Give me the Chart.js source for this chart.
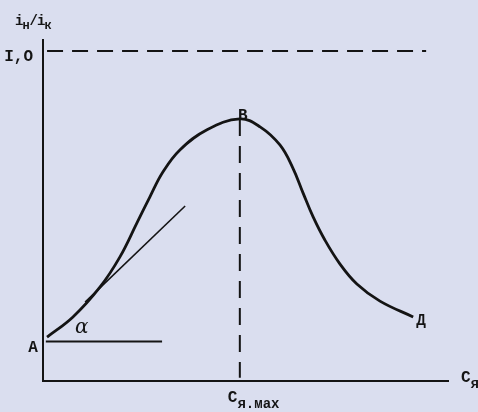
<!DOCTYPE html>
<html>
<head>
<meta charset="utf-8">
<script src="https://cdn.jsdelivr.net/npm/chart.js@4/dist/chart.umd.min.js"></script>
<style>
  html, body { margin: 0; padding: 0; background: #dadeef; }
  #wrap { width: 478px; height: 412px; }
</style>
</head>
<body>
<div id="wrap"><canvas id="c" width="478" height="412"></canvas></div>
<script>
// Concentration axis (arbitrary units) and the i_н/i_к ratio of the curve A–B–Д
const cValues     = [0.10, 0.74, 1.41, 1.90, 2.32, 2.64, 2.96, 3.38, 4.05, 4.86, 5.36, 5.85, 6.17, 6.42, 6.67, 6.96, 7.33, 7.75, 8.32, 9.14];
const ratioValues = [0.133, 0.194, 0.285, 0.376, 0.479, 0.558, 0.633, 0.700, 0.761, 0.794, 0.770, 0.715, 0.645, 0.570, 0.497, 0.427, 0.355, 0.294, 0.242, 0.194];

// Tangent drawn at the initial part of the curve
const tangentC     = [1.04, 3.51];
const tangentRatio = [0.239, 0.530];

// Horizontal reference from point A (angle α is measured from it)
const baseC     = [0.07, 2.94];
const baseRatio = [0.12, 0.12];

// Limit level i_н/i_к = 1,0 and the optimum concentration
const limitC     = [0.10, 9.46];
const limitRatio = 1.0;
const cMax       = 4.86;
const peakRatio  = 0.794;

// typewritten "I,O" stands for 1,0
const yTicks = [limitRatio];
const yTickLabels = ['I,O'];

const ink = '#141414';
const mono = '"Liberation Mono", "DejaVu Sans Mono", monospace';

const pts = (xs, ys) => xs.map((x, i) => ({ x, y: Array.isArray(ys) ? ys[i] : ys }));

// Text with a lowered subscript
function subText(ctx, x, y, parts) {
  let cx = x;
  for (const p of parts) {
    ctx.font = p.font;
    ctx.fillText(p.t, cx, y + (p.dy || 0));
    cx += ctx.measureText(p.t).width + (p.gap || 0);
  }
}

const labelsPlugin = {
  id: 'figureLabels',
  afterDraw(chart) {
    const ctx = chart.ctx;
    const xs = chart.scales.x, ys = chart.scales.y;
    ctx.save();
    ctx.fillStyle = ink;
    ctx.textBaseline = 'alphabetic';
    ctx.textAlign = 'left';

    const big = 'bold 16px ' + mono;
    const sub = 'bold 14px ' + mono;
    const small = 'bold 14px ' + mono;
    const tiny = 'bold 12px ' + mono;

    // y-axis title
    subText(ctx, 15, 25, [
      { t: 'i', font: small, gap: -1 },
      { t: 'н', font: tiny, dy: 4 },
      { t: '/', font: small, gap: -1 },
      { t: 'i', font: small, gap: -1 },
      { t: 'к', font: tiny, dy: 4 }
    ]);

    // point A on the y axis
    ctx.font = big;
    ctx.textAlign = 'center';
    ctx.fillText('A', 33, ys.getPixelForValue(baseRatio[0]) + 11);

    // point B at the maximum
    ctx.fillText('B', xs.getPixelForValue(cMax) + 3, ys.getPixelForValue(peakRatio) + 1);

    // point Д at the curve end
    const n = cValues.length - 1;
    ctx.textAlign = 'left';
    ctx.fillText('Д', xs.getPixelForValue(cValues[n]) + 3, ys.getPixelForValue(ratioValues[n]) + 8);

    // angle α
    ctx.font = 'italic 20px "DejaVu Serif", serif';
    ctx.fillText('α', 75, ys.getPixelForValue(baseRatio[0]) - 8);

    // x-axis title
    const axisY = ys.getPixelForValue(0);
    subText(ctx, 461, axisY + 1, [
      { t: 'C', font: big },
      { t: 'я', font: sub, dy: 6 }
    ]);

    // optimum concentration under the axis
    subText(ctx, xs.getPixelForValue(cMax) - 12, axisY + 21, [
      { t: 'C', font: big },
      { t: 'я.мах', font: sub, dy: 6 }
    ]);
    ctx.restore();
  }
};

new Chart(document.getElementById('c'), {
  type: 'scatter',
  data: {
    datasets: [
      {
        data: pts(cValues, ratioValues),
        showLine: true, borderColor: ink, borderWidth: 2.8,
        tension: 0.4, pointRadius: 0
      },
      {
        data: pts(tangentC, tangentRatio),
        showLine: true, borderColor: ink, borderWidth: 1.6, pointRadius: 0
      },
      {
        data: pts(baseC, baseRatio),
        showLine: true, borderColor: ink, borderWidth: 2, pointRadius: 0
      },
      {
        data: pts(limitC, limitRatio),
        showLine: true, borderColor: ink, borderWidth: 2, borderDash: [16, 9], pointRadius: 0
      },
      {
        data: [{ x: cMax, y: peakRatio }, { x: cMax, y: 0.01 }],
        showLine: true, borderColor: ink, borderWidth: 2, borderDash: [17, 10], pointRadius: 0
      }
    ]
  },
  options: {
    responsive: false,
    animation: false,
    layout: { padding: { left: 0, top: 40, right: 30, bottom: 0 } },
    plugins: { legend: { display: false }, tooltip: { enabled: false } },
    scales: {
      x: {
        type: 'linear', min: 0, max: 10,
        grid: { display: false, drawTicks: false },
        border: { display: true, color: ink, width: 2 },
        ticks: { display: false },
        afterFit: s => { s.height = 31; }
      },
      y: {
        type: 'linear', min: 0, max: 1.033,
        grid: { display: false, drawTicks: false },
        border: { display: true, color: ink, width: 2 },
        afterBuildTicks: s => { s.ticks = yTicks.map(v => ({ value: v })); },
        ticks: {
          color: ink, padding: 10, labelOffset: 6,
          font: { family: mono, size: 16, weight: 'bold' },
          callback: (v) => { const i = yTicks.indexOf(v); return i >= 0 ? yTickLabels[i] : ''; }
        },
        afterFit: s => { s.width = 43; }
      }
    }
  },
  plugins: [labelsPlugin]
});
</script>
</body>
</html>
